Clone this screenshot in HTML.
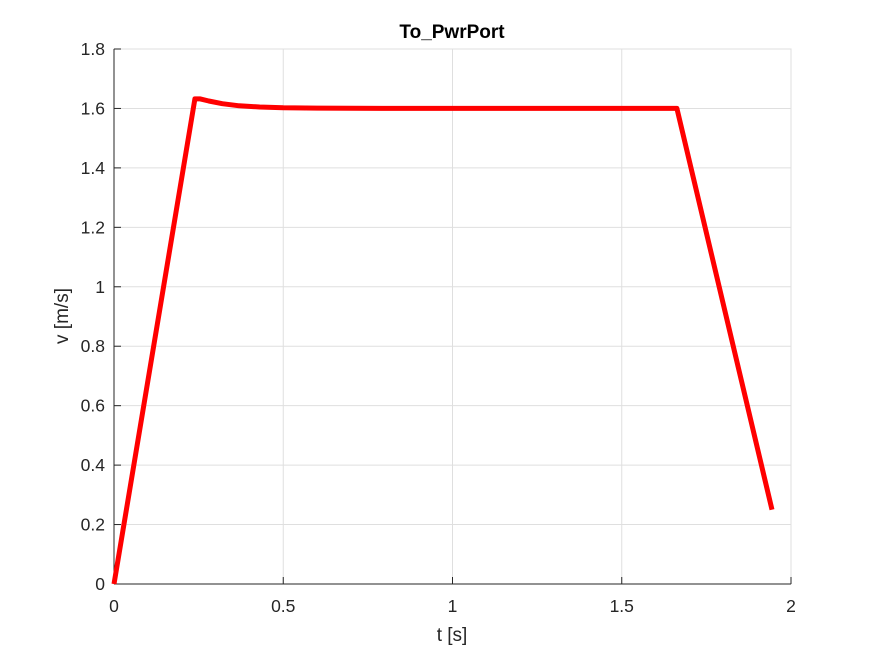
<!DOCTYPE html>
<html><head><meta charset="utf-8"><style>
body{margin:0;background:#fff;}
svg{font-family:"Liberation Sans",Arial,sans-serif;}
</style></head><body>
<svg id="chart" width="875" height="656" xmlns="http://www.w3.org/2000/svg">
<rect width="875" height="656" fill="#fff"/>
<g id="grid"></g>
<g id="axes"></g>
<g id="series"></g>
<text x="452" y="38" text-anchor="middle" font-size="19" font-weight="bold" fill="#000">To_PwrPort</text>
<text x="452" y="641" text-anchor="middle" font-size="19" fill="#262626">t [s]</text>
<text transform="translate(68,316) rotate(-90)" text-anchor="middle" font-size="19" fill="#262626">v [m/s]</text>
</svg>
<script>
const xTicks=[0,0.5,1,1.5,2];
const xTickLabels=["0","0.5","1","1.5","2"];
const yTicks=[0,0.2,0.4,0.6,0.8,1,1.2,1.4,1.6,1.8];
const yTickLabels=["0","0.2","0.4","0.6","0.8","1","1.2","1.4","1.6","1.8"];
const tValues=[0,0.239,0.255,0.28,0.32,0.37,0.43,0.5,0.6,0.8,1.0,1.663,1.944];
const vValues=[0,1.632,1.632,1.625,1.616,1.609,1.605,1.602,1.601,1.6,1.6,1.6,0.25];
const L=114,R=791,T=49,B=584;
const xS=v=>L+(v-0)/(2-0)*(R-L);
const yS=v=>B-(v-0)/(1.8-0)*(B-T);
const NS="http://www.w3.org/2000/svg";
function mk(tag,attrs,parent){const e=document.createElementNS(NS,tag);for(const k in attrs)e.setAttribute(k,attrs[k]);parent.appendChild(e);return e;}
const grid=document.getElementById('grid'),axes=document.getElementById('axes'),series=document.getElementById('series');
const bx=mk('rect',{x:L,y:T,width:R-L,height:B-T,fill:'none',stroke:'#dcdcdc','stroke-width':1},grid);


xTicks.forEach((t,i)=>{
 const x=xS(t);
 const g=mk('line',{x1:x,x2:x,y1:T,y2:B,stroke:'#dfdfdf','stroke-width':1},grid);
 
 
 const tk=mk('line',{x1:x,x2:x,y1:B,y2:B-7,stroke:'#262626','stroke-width':1},axes);
 
 
 const tx=mk('text',{x:x,y:B+28,'text-anchor':'middle','font-size':17.5,fill:'#262626'},axes);
 tx.textContent=xTickLabels[i];
 
 
});
yTicks.forEach((t,i)=>{
 const y=yS(t);
 const g=mk('line',{x1:L,x2:R,y1:y,y2:y,stroke:'#dfdfdf','stroke-width':1},grid);
 
 
 const tk=mk('line',{x1:L,x2:L+7,y1:y,y2:y,stroke:'#262626','stroke-width':1},axes);
 
 
 const tx=mk('text',{x:L-9,y:y+6,'text-anchor':'end','font-size':17.5,fill:'#262626'},axes);
 tx.textContent=yTickLabels[i];
 
 
});
const xa=mk('line',{x1:L,x2:R,y1:B,y2:B,stroke:'#262626','stroke-width':1},axes);


const ya=mk('line',{x1:L,x2:L,y1:T,y2:B,stroke:'#262626','stroke-width':1},axes);


const d=tValues.map((t,i)=>(i?'L':'M')+xS(t).toFixed(1)+','+yS(vValues[i]).toFixed(1)).join(' ');
const p=mk('path',{d:d,fill:'none',stroke:'#ff0000','stroke-width':5,'stroke-linejoin':'round','stroke-linecap':'butt'},series);


</script>
</body></html>
